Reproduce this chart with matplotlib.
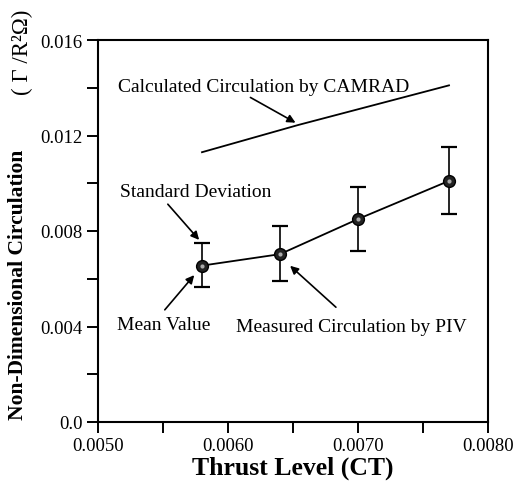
import matplotlib
matplotlib.use("Agg")
import matplotlib.pyplot as plt
import numpy as np

# Data
ct = [0.0058, 0.0064, 0.0070, 0.0077]
piv_mean = [0.00655, 0.00703, 0.0085, 0.0101]
piv_upper = [0.0075, 0.0082, 0.00985, 0.0115]
piv_lower = [0.00565, 0.0059, 0.00715, 0.0087]
camrad_ct = [0.0058, 0.00654, 0.0077]
camrad = [0.0113, 0.01244, 0.0141]

x_ticks = [0.0050, 0.0055, 0.0060, 0.0065, 0.0070, 0.0075, 0.0080]
x_labels = ["0.0050", "", "0.0060", "", "0.0070", "", "0.0080"]
y_ticks = [0.0, 0.002, 0.004, 0.006, 0.008, 0.010, 0.012, 0.014, 0.016]
y_labels = ["0.0", "", "0.004", "", "0.008", "", "0.012", "", "0.016"]

plt.rcParams['font.family'] = ['Liberation Serif', 'DejaVu Serif']

fig = plt.figure(figsize=(5.14, 4.85), dpi=100)
ax = fig.add_axes([98/514, 62/485, 390/514, 382/485])

ax.plot(camrad_ct, camrad, color='black', lw=1.3)

mean = np.array(piv_mean)
yerr = [mean - np.array(piv_lower), np.array(piv_upper) - mean]
ax.errorbar(ct, piv_mean, yerr=yerr, color='black', lw=1.3, capsize=5.5,
            capthick=1.6, elinewidth=1.2, marker='o', markersize=8.5,
            markerfacecolor='#222222', markeredgecolor='black', zorder=3)
ax.plot(ct, piv_mean, 'o', markersize=3, color='#aaaaaa', zorder=4, mec='none')

ax.set_xlim(0.005, 0.008)
ax.set_ylim(0.0, 0.016)
ax.set_xticks(x_ticks)
ax.set_xticklabels(x_labels)
ax.set_yticks(y_ticks)
ax.set_yticklabels(y_labels)
ax.tick_params(direction='out', length=8, width=1.4, labelsize=13.5, pad=3)
for s in ax.spines.values():
    s.set_linewidth(1.5)

ax.set_xlabel("Thrust Level (CT)", fontsize=18.5, fontweight='bold', labelpad=1)

fig.text(18/514, 1 - 285/485, "Non-Dimensional Circulation", rotation=90,
         fontsize=15.5, fontweight='bold', ha='center', va='center')
fig.text(22/514, 1 - 52/485, "( \u0393 /R\u00b2\u03a9)", rotation=90,
         fontsize=16.5, ha='center', va='center')

arrow = dict(arrowstyle='-|>', color='black', lw=1.2, mutation_scale=12)
fs = 14
ax.text(0.005154, 0.01407, "Calculated Circulation by CAMRAD", fontsize=fs,
        va='center', ha='left')
ax.annotate("", xy=(0.006538, 0.01248), xytext=(0.006154, 0.01365), arrowprops=arrow)

ax.text(0.005169, 0.00967, "Standard Deviation", fontsize=fs, va='center', ha='left')
ax.annotate("", xy=(0.005792, 0.00754), xytext=(0.005523, 0.00921), arrowprops=arrow)

ax.text(0.005146, 0.0041, "Mean Value", fontsize=fs, va='center', ha='left')
ax.annotate("", xy=(0.005754, 0.00624), xytext=(0.0055, 0.00461), arrowprops=arrow)

ax.text(0.006062, 0.00402, "Measured Circulation by PIV", fontsize=fs,
        va='center', ha='left')
ax.annotate("", xy=(0.006462, 0.00662), xytext=(0.006846, 0.00473), arrowprops=arrow)

fig.savefig("out.png", dpi=100)
